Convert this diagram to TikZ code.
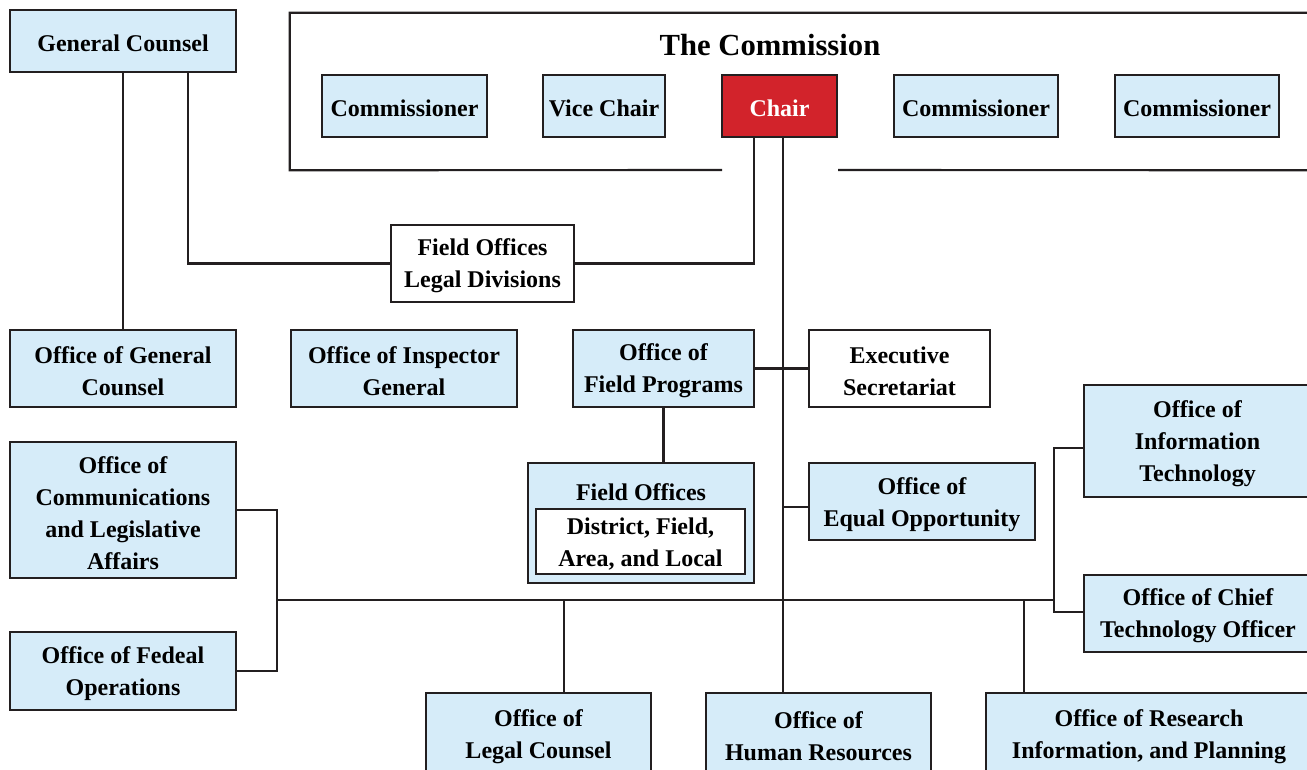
\documentclass[tikz,border=0pt]{standalone}
\usepackage{fontspec}
\setmainfont{Liberation Serif}
\usetikzlibrary{fit}
\definecolor{lb}{HTML}{D6ECF9}
\definecolor{chairred}{HTML}{D2232B}
\definecolor{ink}{HTML}{231F20}
\newcommand\orgbox[4][]{%
  \node[box,#1,fit={#3}] (#2) {};
  \node[boxtext,#1,draw=none,fill=none] (#2-t) at (#2.center) {#4};}
\begin{document}
\begin{tikzpicture}[x=0.75pt,y=-0.75pt,
  font=\fontsize{18}{24}\selectfont\bfseries,
  box/.style={draw=ink, line width=1.6pt, fill=lb, inner sep=0pt},
  boxtext/.style={align=center, inner sep=0pt, text=black, yshift=-2pt},
  wbox/.style={fill=white},
  conn/.style={draw=ink, line width=1.6pt}]
\useasboundingbox (0,0) rectangle (1307,769);
\clip (0,0) rectangle (1307,769);
% The Commission frame
\node[inner sep=0pt, fit={(290,13)(1312,170)}] (comm) {};
\coordinate (gapL) at (722,170);
\coordinate (gapR) at (838,170);
\draw[conn] (gapL) -- (comm.south west) -- (comm.north west) -- (comm.north east) -- (comm.south east) -- (gapR);
\node[text=black] (title) at (770,45) {\fontsize{23}{28}\selectfont The Commission};
% boxes
\orgbox{gc}{(10,10)(236,72)}{General Counsel}
\orgbox{com1}{(322,75)(487,137)}{Commissioner}
\orgbox{vice}{(543,75)(665,137)}{Vice Chair}
\orgbox[fill=chairred, text=white]{chair}{(722,75)(837,137)}{Chair}
\orgbox{com3}{(894,75)(1058,137)}{Commissioner}
\orgbox{com4}{(1115,75)(1279,137)}{Commissioner}
\orgbox[wbox]{fold}{(391,225)(574,302)}{Field Offices\\Legal Divisions}
\orgbox{ogc}{(10,330)(236,407)}{Office of General\\Counsel}
\orgbox{oig}{(291,330)(517,407)}{Office of Inspector\\General}
\orgbox{ofp}{(573,330)(754,407)}{Office of\\Field Programs}
\orgbox[wbox]{es}{(809,330)(990,407)}{Executive\\Secretariat}
\node[box, fit={(528,463)(754,583)}] (fo) {};
\node[boxtext] (folabel) at (641,489) {Field Offices};
\orgbox[wbox, line width=1pt]{foin}{(536,509)(745,574)}{District, Field,\\Area, and Local}
\orgbox{eo}{(809,463)(1035,540)}{Office of\\Equal Opportunity}
\orgbox{oit}{(1084,385)(1311,497)}{Office of\\Information\\Technology}
\orgbox{octo}{(1084,575)(1312,652)}{Office of Chief\\Technology Officer}
\orgbox{ocla}{(10,442)(236,578)}{Office of\\Communications\\and Legislative\\Affairs}
\orgbox{ofo}{(10,632)(236,710)}{Office of Fedeal\\Operations}
\orgbox{olc}{(426,693)(651,775)}{Office of\\Legal Counsel}
\orgbox{ohr}{(706,693)(931,775)}{Office of\\Human Resources}
\orgbox{orip}{(986,693)(1312,775)}{Office of Research\\Information, and Planning}
% connectors
\draw[conn] (gc.south) -- (ogc.north);
\coordinate (gcj) at (188,264);
\draw[conn] (gcj |- gc.south) -- (gcj |- fold.west) -- (fold.west);
\coordinate (chj) at (754,264);
\draw[conn] (fold.east) -- (chj |- fold.east) -- (chj |- chair.south);
\coordinate (spine) at (783,600);
\draw[conn] (spine |- chair.south) -- (spine |- ohr.north);
\draw[conn] (ofp.east) -- (es.west);
\draw[conn] (ofp.south) -- (ofp.south |- fo.north);
\coordinate (eoj) at (783,507);
\draw[conn] (eoj) -- (eoj -| eo.west);
\coordinate (lj) at (277,600);
\draw[conn] (ocla.east) -- (lj |- ocla.east) -- (lj |- ofo.east) -- (ofo.east);
\coordinate (rj) at (1054,600);
\draw[conn] (lj) -- (rj);
\coordinate (itj) at (1054,448);
\coordinate (ctoj) at (1054,612);
\draw[conn] (itj -| oit.west) -- (itj) -- (ctoj) -- (ctoj -| octo.west);
\coordinate (lcj) at (564,600);
\draw[conn] (lcj) -- (lcj |- olc.north);
\coordinate (rsj) at (1024,600);
\draw[conn] (rsj) -- (rsj |- orip.north);
\end{tikzpicture}
\end{document}
